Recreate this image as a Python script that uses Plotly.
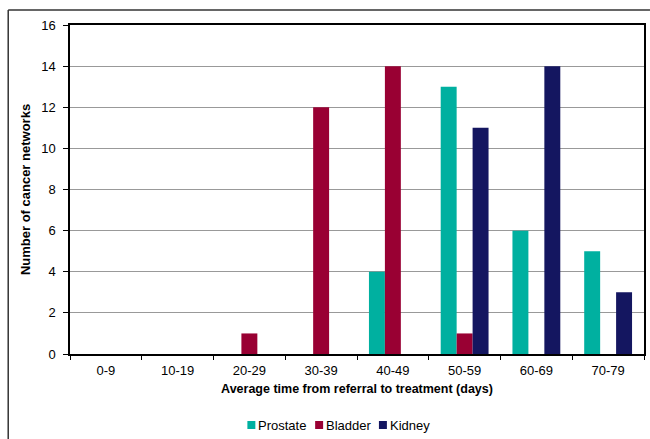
import plotly.graph_objects as go

categories = ["0-9", "10-19", "20-29", "30-39", "40-49", "50-59", "60-69", "70-79"]
prostate = [0, 0, 0, 0, 4, 13, 6, 5]
bladder = [0, 0, 1, 12, 14, 1, 0, 0]
kidney = [0, 0, 0, 0, 0, 11, 14, 3]

series = [
    ("Prostate", prostate, "#00B0A0"),
    ("Bladder", bladder, "#990033"),
    ("Kidney", kidney, "#141660"),
]

W, H = 650, 439
ML, MR, MT, MB = 70, 4, 25, 85
pw, ph = W - ML - MR, H - MT - MB


def px_x(x):
    return (x - ML) / pw


def px_y(y):
    return (H - MB - y) / ph


fig = go.Figure()
for name, vals, col in series:
    fig.add_trace(go.Bar(name=name, x=categories, y=vals, marker_color=col,
                         marker_line_width=0, showlegend=False))

font = dict(family="Liberation Sans, Arial, sans-serif", size=13, color="#000")

# outer chart frame (top and left edges visible)
fig.add_shape(type="line", xref="paper", yref="paper", x0=px_x(8), x1=px_x(W + 2),
              y0=px_y(10), y1=px_y(10), line=dict(color="#333", width=1.5))
fig.add_shape(type="line", xref="paper", yref="paper", x0=px_x(8), x1=px_x(8),
              y0=px_y(10), y1=px_y(H + 2), line=dict(color="#333", width=1.5))

# compact legend along the bottom: colour swatch followed by its label
legend_x = [248, 316, 380]
legend_y = 425
for (name, _, col), lx in zip(series, legend_x):
    fig.add_shape(type="rect", xref="paper", yref="paper",
                  x0=px_x(lx), x1=px_x(lx + 8), y0=px_y(legend_y - 4), y1=px_y(legend_y + 4),
                  fillcolor=col, line=dict(width=0))
    fig.add_annotation(xref="paper", yref="paper", x=px_x(lx + 9), y=px_y(legend_y),
                       text=name, showarrow=False, xanchor="left", yanchor="middle",
                       font=dict(size=13))

fig.update_layout(
    width=W, height=H,
    margin=dict(l=ML, r=MR, t=MT, b=MB),
    paper_bgcolor="white", plot_bgcolor="white",
    barmode="group", bargap=0.333, bargroupgap=0,
    font=font,
    showlegend=False,
    xaxis=dict(
        type="category", showline=True, linecolor="#000", linewidth=1.5, mirror=True,
        ticks="outside", tickson="boundaries", ticklen=4, tickcolor="#000",
        showgrid=False, tickfont=dict(size=13), ticklabelstandoff=4,
        title=dict(text="<b>Average time from referral to treatment (days)</b>",
                   font=dict(size=12.5), standoff=7),
    ),
    yaxis=dict(
        range=[0, 16], dtick=2, showline=True, linecolor="#000", linewidth=1.5, mirror=True,
        ticks="outside", ticklen=5, tickcolor="#000",
        showgrid=True, gridcolor="#999", gridwidth=1, zeroline=False,
        tickfont=dict(size=13), ticklabelstandoff=5,
        title=dict(text="<b>Number of cancer networks</b>", font=dict(size=13), standoff=8),
    ),
)

fig.write_html("out.html")
